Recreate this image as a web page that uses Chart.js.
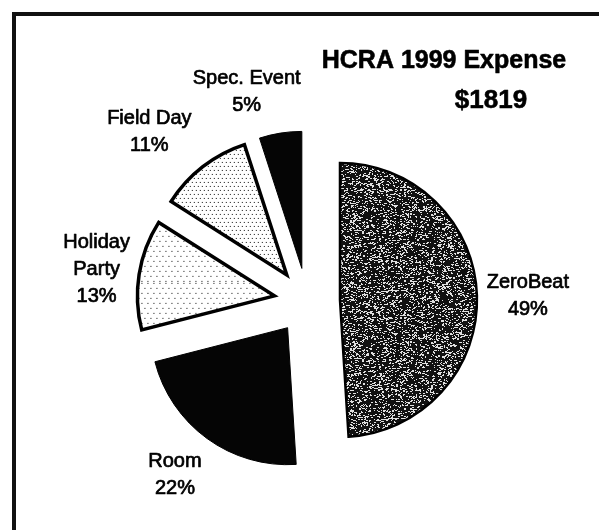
<!DOCTYPE html>
<html>
<head>
<meta charset="utf-8">
<script src="https://cdn.jsdelivr.net/npm/chart.js@4"></script>
<style>
html, body { margin: 0; padding: 0; background: #fff; }
#wrap { position: relative; width: 599px; height: 530px; overflow: hidden; }
#frame { position: absolute; left: 12px; top: 12px; width: 640px; height: 580px; border: 4px solid #111; }
#expenseChart { position: absolute; left: 0; top: 0; }
</style>
</head>
<body>
<div id="wrap">
    <div id="frame"></div>
    <canvas id="expenseChart" width="599" height="530"></canvas>
</div>
<script>
// Chart data
const categories = [['ZeroBeat'], ['Room'], ['Holiday', 'Party'], ['Field Day'], ['Spec. Event']];
const shares = [49, 22, 13, 11, 5];
const chartTitle = 'HCRA 1999 Expense';
const chartTotal = '$1819';

// Layout bits (not data)
const FONT = '"Liberation Sans", Arial, sans-serif';
const explodeDist = 33;
const labelDist = [221, 217, 213, 232, 219];
const labelNudge = [0, 1.5, 0, -5, -7]; // degrees, clockwise

// deterministic pseudo-noise for the scanned textures
let seed = 12345;
function rnd() {
    seed = (Math.imul(seed, 1103515245) + 12345) >>> 0;
    return (seed >>> 8) / 16777216;
}

function makePattern(size, paint) {
    const c = document.createElement('canvas');
    c.width = size;
    c.height = size;
    const g = c.getContext('2d');
    paint(g, size);
    return g.createPattern(c, 'repeat');
}

const speckle = makePattern(128, (g, s) => {
    g.fillStyle = '#111';
    g.fillRect(0, 0, s, s);
    g.fillStyle = '#e0e0e0';
    for (let y = 0; y < s; y++) {
        for (let x = 0; x < s; x++) {
            if (rnd() < 0.19) {
                g.fillRect(x, y, rnd() < 0.45 ? 2 : 1, 1);
            }
        }
    }
});

function dots(stepX, stepY) {
    return makePattern(stepX * 2 * 6, (g, s) => {
        g.fillStyle = '#fff';
        g.fillRect(0, 0, s, s);
        g.fillStyle = '#111';
        let row = 0;
        for (let y = 0; y < s; y += stepY, row++) {
            const shift = (row % 2) * Math.floor(stepX / 2);
            for (let x = shift; x < s; x += stepX) {
                g.fillRect(x, y, 1, 1);
            }
        }
    });
}

const fills = [speckle, '#050505', dots(6, 5), dots(4, 4), '#050505'];
const borders = [2.5, 1, 3.5, 3.5, 1];

// draw each slice pulled out from the centre
const explodePlugin = {
    id: 'explode',
    beforeDatasetDraw(chart, args) {
        const ctx = chart.ctx;
        args.meta.data.forEach(arc => {
            const mid = (arc.startAngle + arc.endAngle) / 2;
            ctx.save();
            ctx.translate(Math.cos(mid) * explodeDist, Math.sin(mid) * explodeDist);
            arc.draw(ctx);
            ctx.restore();
        });
        return false;
    }
};

function heavyText(ctx, text, x, y, weight) {
    ctx.lineWidth = weight;
    ctx.strokeText(text, x, y);
    ctx.fillText(text, x, y);
}

// slice labels + title
const labelPlugin = {
    id: 'sliceLabels',
    afterDraw(chart) {
        const ctx = chart.ctx;
        const arcs = chart.getDatasetMeta(0).data;
        ctx.save();
        ctx.fillStyle = '#000';
        ctx.strokeStyle = '#000';
        ctx.lineJoin = 'round';
        ctx.textAlign = 'center';
        ctx.textBaseline = 'alphabetic';

        ctx.font = 'bold 25px ' + FONT;
        heavyText(ctx, chartTitle, 444, 68, 0.6);
        ctx.font = 'bold 26px ' + FONT;
        heavyText(ctx, chartTotal, 491, 108, 0.6);

        ctx.font = '20px ' + FONT;
        arcs.forEach((arc, i) => {
            const mid = (arc.startAngle + arc.endAngle) / 2 + labelNudge[i] * Math.PI / 180;
            const cx = arc.x + Math.cos(mid) * labelDist[i];
            const cy = arc.y + Math.sin(mid) * labelDist[i];
            const lines = categories[i].concat([shares[i] + '%']);
            const lineH = 27;
            let y = cy - (lines.length - 1) * lineH / 2 + 7;
            lines.forEach(line => {
                heavyText(ctx, line, cx, y, 0.7);
                y += lineH;
            });
        });
        ctx.restore();
    }
};

new Chart(document.getElementById('expenseChart'), {
    type: 'pie',
    data: {
        labels: categories,
        datasets: [{
            data: shares,
            backgroundColor: fills,
            borderColor: '#000',
            borderWidth: borders,
            borderJoinStyle: 'miter',
            offset: 0
        }]
    },
    options: {
        responsive: false,
        animation: false,
        radius: 137,
        layout: {
            padding: { left: 15, right: 0, top: 72, bottom: 0 }
        },
        plugins: {
            legend: { display: false },
            tooltip: { enabled: false },
            title: { display: false }
        }
    },
    plugins: [explodePlugin, labelPlugin]
});
</script>
</body>
</html>
